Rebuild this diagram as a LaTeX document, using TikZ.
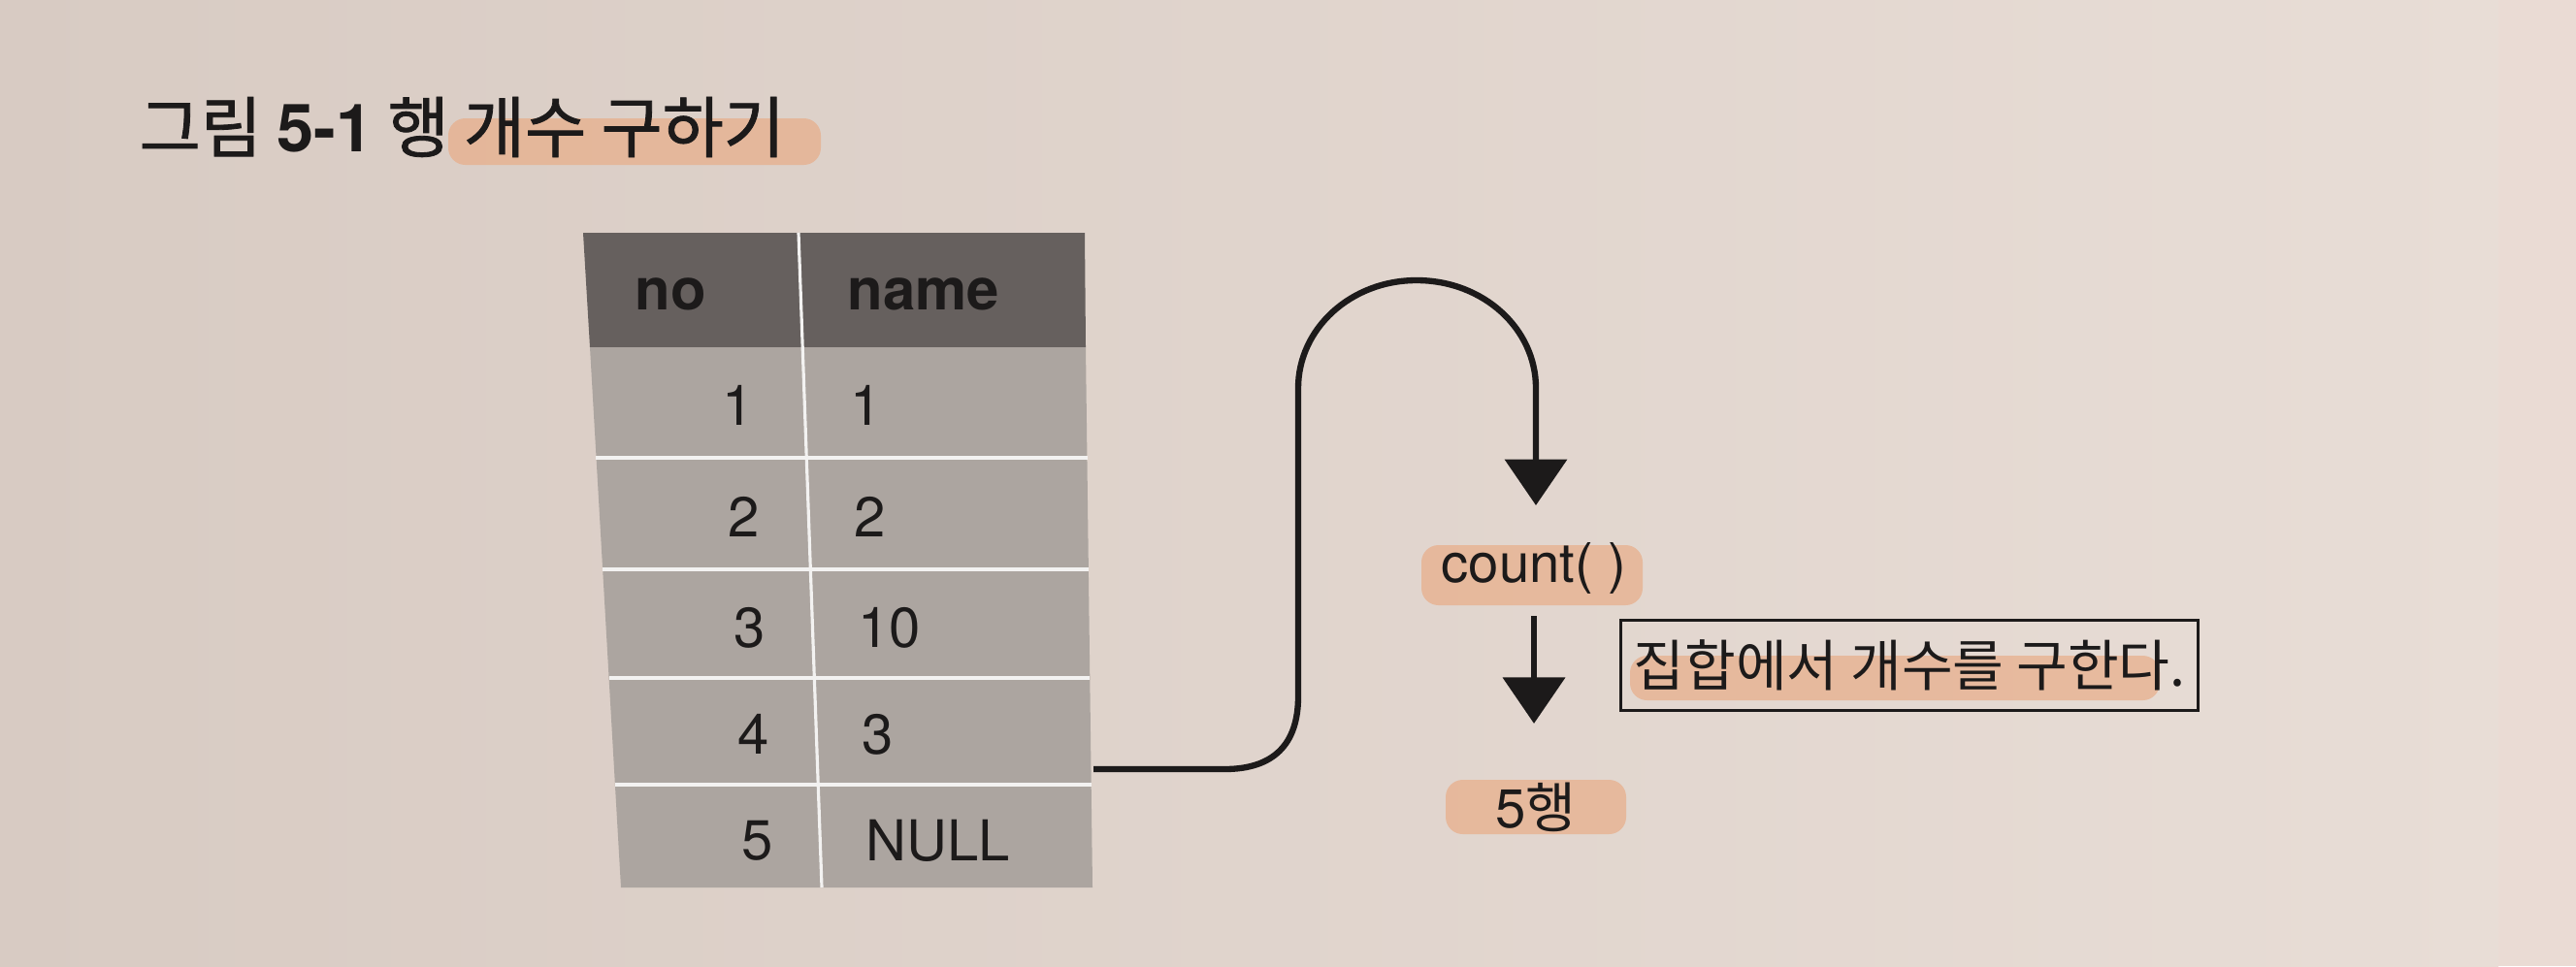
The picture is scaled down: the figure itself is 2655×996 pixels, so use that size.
\documentclass[tikz,border=0pt]{standalone}
\usepackage{fontspec}
\setmainfont{TeX Gyre Heros}
\newfontfamily\kr{Noto Sans CJK KR}
\newfontfamily\krb[FakeBold=1.2]{Noto Sans CJK KR}
\usetikzlibrary{arrows.meta}
\definecolor{bgL}{RGB}{216,203,195}
\definecolor{bgR}{RGB}{232,221,214}
\definecolor{hdr}{RGB}{102,96,94}
\definecolor{cell}{RGB}{172,165,160}
\definecolor{ink}{RGB}{28,26,26}
\definecolor{hl}{RGB}{232,174,138}
\begin{document}
\begin{tikzpicture}[x=0.01cm,y=-0.01cm,
  conn/.style={draw=ink,line width=1.8pt},
  tipped/.style={-{Triangle[width=18pt,length=13.5pt]}},
  hlbox/.style={fill=hl,opacity=0.72,rounded corners=5pt},
  grid/.style={draw=white!85!cell,line width=0.9pt},
  hdrtext/.style={font=\fontsize{17}{19}\bfseries\selectfont,text=ink,inner sep=0pt},
  celltext/.style={font=\fontsize{16.5}{18}\selectfont,text=ink,inner sep=0pt},
  lbl/.style={font=\fontsize{16}{18}\selectfont,text=ink,inner sep=0pt}]
\useasboundingbox (0,0) rectangle (2655,996);
\shade[left color=bgL,right color=bgR] (0,0) rectangle (2575,996);
\fill[bgR!92!pink] (2575,0) rectangle (2655,996);

% title
\fill[hlbox] (462,122) rectangle (846,170);
\node[anchor=west,inner sep=0pt,text=ink] (title) at (143,131)
  {\krb\fontsize{19.5}{22}\selectfont 그림 {\rmfamily\bfseries 5-1} 행 개수 구하기};

% table
\fill[hdr] (601,240) -- (1118,240) -- (1119,358) -- (608,358) -- cycle;
\fill[cell] (608,358) -- (1119,358) -- (1126,915) -- (640,915) -- cycle;
\draw[grid] (823,240) -- (847,915);
\draw[grid] (614,472) -- (1121,472);
\draw[grid] (621,587) -- (1122,587);
\draw[grid] (628,699) -- (1123,699);
\draw[grid] (634,809) -- (1125,809);

\node[hdrtext] (hno) at (691,303) {no};
\node[hdrtext] (hname) at (952,303) {name};
\node[celltext,anchor=east] (n1) at (777,418) {1};
\node[celltext,anchor=east] (n2) at (783,533) {2};
\node[celltext,anchor=east] (n3) at (789,647) {3};
\node[celltext,anchor=east] (n4) at (793,757) {4};
\node[celltext,anchor=east] (n5) at (797,867) {5};
\node[celltext,anchor=west] (v1) at (876,418) {1};
\node[celltext,anchor=west] (v2) at (880,533) {2};
\node[celltext,anchor=west] (v3) at (884,647) {10};
\node[celltext,anchor=west] (v4) at (888,757) {3};
\node[celltext,anchor=west] (v5) at (892,867) {NULL};

% count and result
\fill[hlbox] (1465,562) rectangle (1693,624);
\node[lbl] (cnt) at (1581,586) {count(~)};
\fill[hlbox] (1490,804) rectangle (1676,860);
\node[lbl] (five) at (1583,832) {5{\kr 행}};

% note box
\fill[hlbox] (1680,676) rectangle (2226,722);
\node[draw=ink,line width=0.85pt,minimum width=5.95cm,minimum height=0.93cm,inner sep=0pt,
  font=\kr\fontsize{16.3}{18}\selectfont,text=ink] (note) at (1968,686) {집합에서 개수를 구한다.};

% connectors
\coordinate (tblR) at (1127,793);
\coordinate (tipA) at (1583,521);
\draw[conn,tipped] (tblR) -- (1262,793) .. controls (1312,793) and (1338,768) .. (1338,718)
  -- (1338,400) .. controls (1338,339) and (1392,289) .. (1460,289)
  .. controls (1529,289) and (1583,339) .. (1583,400) -- (tipA);
\draw[conn,tipped,shorten <=0.49cm,shorten >=0.86cm] (cnt.center) -- (cnt.center |- five.center);
\end{tikzpicture}
\end{document}
